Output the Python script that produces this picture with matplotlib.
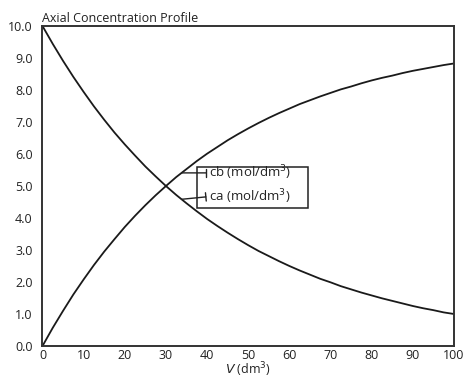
import numpy as np
import matplotlib
matplotlib.use("Agg")
import matplotlib.pyplot as plt
from matplotlib.patches import Rectangle, ArrowStyle

# volume (dm3) and concentrations
V = [0, 2.5, 5, 7.5, 10, 12.5, 15, 17.5, 20, 22.5, 25, 27.5, 30, 32.5, 35, 37.5, 40,
     42.5, 45, 47.5, 50, 52.5, 55, 57.5, 60, 62.5, 65, 67.5, 70, 72.5, 75, 77.5, 80,
     82.5, 85, 87.5, 90, 92.5, 95, 97.5, 100]
ca = [10.0, 9.44, 8.91, 8.41, 7.94, 7.49, 7.07, 6.67, 6.30, 5.95, 5.61, 5.30, 5.00,
      4.72, 4.46, 4.21, 3.97, 3.75, 3.54, 3.34, 3.15, 2.97, 2.81, 2.65, 2.50, 2.36,
      2.23, 2.10, 1.99, 1.87, 1.77, 1.67, 1.58, 1.49, 1.41, 1.33, 1.25, 1.18, 1.12,
      1.05, 1.00]
cb = [0.0, 0.57, 1.10, 1.61, 2.08, 2.53, 2.95, 3.34, 3.72, 4.07, 4.40, 4.71, 5.00,
      5.28, 5.53, 5.78, 6.01, 6.22, 6.43, 6.62, 6.80, 6.97, 7.13, 7.28, 7.42, 7.56,
      7.68, 7.80, 7.91, 8.02, 8.11, 8.21, 8.30, 8.38, 8.45, 8.53, 8.60, 8.66, 8.72,
      8.78, 8.83]
x_ticks = [0, 10, 20, 30, 40, 50, 60, 70, 80, 90, 100]
y_ticks = [0, 1, 2, 3, 4, 5, 6, 7, 8, 9, 10]

plt.rcParams['font.family'] = ['Open Sans', 'DejaVu Sans']

fig = plt.figure(figsize=(4.66, 3.80), dpi=100)
ax = fig.add_axes([0.0912, 0.0895, 0.883, 0.842])

ax.plot(V, ca, color='#1a1a1a', lw=1.3)
ax.plot(V, cb, color='#1a1a1a', lw=1.3)

ax.set_xlim(0, 100)
ax.set_ylim(0, 10)
ax.set_xticks(x_ticks)
ax.set_yticks(y_ticks)
ax.set_yticklabels([f"{v:.1f}" for v in y_ticks])
ax.tick_params(length=0, labelsize=9, colors='#222222')
ax.tick_params(axis='x', pad=2)
ax.tick_params(axis='y', pad=7)
for s in ax.spines.values():
    s.set_linewidth(1.4)
    s.set_color('#333333')

ax.set_title("Axial Concentration Profile", loc='left', fontsize=9, pad=3, color='#222222')
ax.set_xlabel(r"$V$ (dm$^3$)", fontsize=9, labelpad=-1, color='#222222')

# label box with leader lines
ax.add_patch(Rectangle((0.375, 0.431), 0.27, 0.128, transform=ax.transAxes,
                       fill=False, lw=1.1, edgecolor='#222222', clip_on=False))
v_lead = 33.8
labels = [("cb (mol/dm$^3$)", cb, 0.541), ("ca (mol/dm$^3$)", ca, 0.466)]
for txt, series, yt in labels:
    ax.text(0.404, yt, txt, transform=ax.transAxes, fontsize=9.5, va='center', ha='left',
            color='#222222')
    ax.annotate("", xy=(v_lead, np.interp(v_lead, V, series)), xycoords='data',
                xytext=(0.397, yt), textcoords='axes fraction',
                arrowprops=dict(arrowstyle=ArrowStyle("]-", widthA=0.3, lengthA=0),
                                lw=1.0, color='#222222', shrinkA=0, shrinkB=0))

fig.savefig("out.png", dpi=100)
